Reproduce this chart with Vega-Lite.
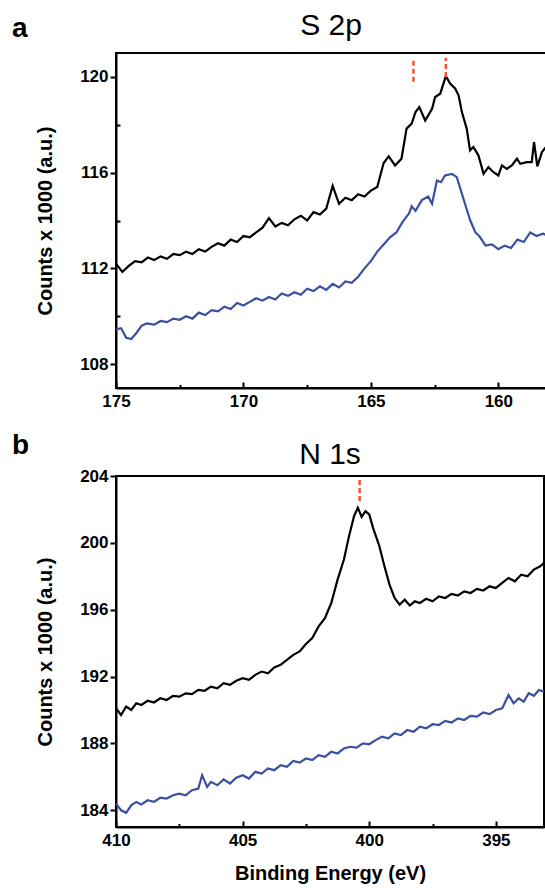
{
  "$schema": "https://vega.github.io/schema/vega-lite/v6.json",
  "padding": {"left": 12, "top": 10, "right": 0, "bottom": 0},
  "config": {
    "font": "Liberation Sans",
    "view": {"stroke": "#000000", "strokeWidth": 2},
    "axis": {"domainColor": "#000000", "domainWidth": 2, "tickColor": "#000000", "tickWidth": 2, "labelFont": "Liberation Sans", "labelFontSize": 17, "labelFontWeight": "bold", "labelColor": "#000000", "titleFont": "Liberation Sans", "titleFontSize": 20, "titleFontWeight": "bold", "titleColor": "#000000", "grid": false, "labelFlush": false, "labelOverlap": false},
    "title": {"color": "#000000", "font": "Liberation Sans"}
  },
  "datasets": {
    "s2p": [
      {"E":175.0,"v":112.2,"s":"k"},{"E":174.75,"v":111.85,"s":"k"},{"E":174.5,"v":112.1,"s":"k"},{"E":174.25,"v":112.3,"s":"k"},{"E":174.0,"v":112.25,"s":"k"},{"E":173.75,"v":112.45,"s":"k"},{"E":173.5,"v":112.35,"s":"k"},{"E":173.25,"v":112.5,"s":"k"},{"E":173.0,"v":112.4,"s":"k"},{"E":172.75,"v":112.6,"s":"k"},{"E":172.5,"v":112.55,"s":"k"},{"E":172.25,"v":112.7,"s":"k"},{"E":172.0,"v":112.6,"s":"k"},{"E":171.75,"v":112.8,"s":"k"},{"E":171.5,"v":112.7,"s":"k"},{"E":171.25,"v":112.9,"s":"k"},{"E":171.0,"v":113.05,"s":"k"},{"E":170.75,"v":112.95,"s":"k"},{"E":170.5,"v":113.2,"s":"k"},{"E":170.25,"v":113.1,"s":"k"},{"E":170.0,"v":113.35,"s":"k"},{"E":169.75,"v":113.3,"s":"k"},{"E":169.5,"v":113.5,"s":"k"},{"E":169.25,"v":113.7,"s":"k"},{"E":169.0,"v":114.1,"s":"k"},{"E":168.75,"v":113.75,"s":"k"},{"E":168.5,"v":113.9,"s":"k"},{"E":168.25,"v":113.8,"s":"k"},{"E":168.0,"v":114.05,"s":"k"},{"E":167.75,"v":114.2,"s":"k"},{"E":167.5,"v":114.0,"s":"k"},{"E":167.25,"v":114.35,"s":"k"},{"E":167.0,"v":114.25,"s":"k"},{"E":166.75,"v":114.5,"s":"k"},{"E":166.5,"v":115.45,"s":"k"},{"E":166.25,"v":114.7,"s":"k"},{"E":166.0,"v":114.95,"s":"k"},{"E":165.75,"v":114.85,"s":"k"},{"E":165.5,"v":115.1,"s":"k"},{"E":165.25,"v":115.0,"s":"k"},{"E":165.0,"v":115.25,"s":"k"},{"E":164.75,"v":115.4,"s":"k"},{"E":164.5,"v":116.4,"s":"k"},{"E":164.3,"v":116.68,"s":"k"},{"E":164.05,"v":116.3,"s":"k"},{"E":163.8,"v":116.58,"s":"k"},{"E":163.6,"v":117.84,"s":"k"},{"E":163.4,"v":118.05,"s":"k"},{"E":163.25,"v":118.53,"s":"k"},{"E":163.1,"v":118.74,"s":"k"},{"E":162.87,"v":118.18,"s":"k"},{"E":162.6,"v":118.67,"s":"k"},{"E":162.48,"v":119.16,"s":"k"},{"E":162.28,"v":119.3,"s":"k"},{"E":162.06,"v":120.03,"s":"k"},{"E":161.89,"v":119.72,"s":"k"},{"E":161.69,"v":119.51,"s":"k"},{"E":161.56,"v":119.23,"s":"k"},{"E":161.43,"v":118.53,"s":"k"},{"E":161.24,"v":117.84,"s":"k"},{"E":161.11,"v":116.93,"s":"k"},{"E":160.98,"v":117.07,"s":"k"},{"E":160.78,"v":116.72,"s":"k"},{"E":160.58,"v":115.95,"s":"k"},{"E":160.39,"v":116.23,"s":"k"},{"E":160.19,"v":116.02,"s":"k"},{"E":160.0,"v":115.88,"s":"k"},{"E":159.86,"v":116.3,"s":"k"},{"E":159.67,"v":116.16,"s":"k"},{"E":159.47,"v":116.3,"s":"k"},{"E":159.27,"v":116.58,"s":"k"},{"E":159.14,"v":116.37,"s":"k"},{"E":158.88,"v":116.44,"s":"k"},{"E":158.69,"v":116.44,"s":"k"},{"E":158.6,"v":117.28,"s":"k"},{"E":158.47,"v":116.26,"s":"k"},{"E":158.29,"v":116.86,"s":"k"},{"E":158.13,"v":117.07,"s":"k"},
      {"E":175.0,"v":109.45,"s":"b"},{"E":174.8,"v":109.5,"s":"b"},{"E":174.6,"v":109.1,"s":"b"},{"E":174.4,"v":109.05,"s":"b"},{"E":174.2,"v":109.3,"s":"b"},{"E":174.0,"v":109.6,"s":"b"},{"E":173.8,"v":109.7,"s":"b"},{"E":173.5,"v":109.65,"s":"b"},{"E":173.25,"v":109.8,"s":"b"},{"E":173.0,"v":109.75,"s":"b"},{"E":172.75,"v":109.9,"s":"b"},{"E":172.5,"v":109.85,"s":"b"},{"E":172.25,"v":110.0,"s":"b"},{"E":172.0,"v":109.9,"s":"b"},{"E":171.75,"v":110.15,"s":"b"},{"E":171.5,"v":110.05,"s":"b"},{"E":171.25,"v":110.25,"s":"b"},{"E":171.0,"v":110.2,"s":"b"},{"E":170.75,"v":110.4,"s":"b"},{"E":170.5,"v":110.3,"s":"b"},{"E":170.25,"v":110.55,"s":"b"},{"E":170.0,"v":110.45,"s":"b"},{"E":169.75,"v":110.6,"s":"b"},{"E":169.5,"v":110.75,"s":"b"},{"E":169.25,"v":110.65,"s":"b"},{"E":169.0,"v":110.8,"s":"b"},{"E":168.75,"v":110.7,"s":"b"},{"E":168.5,"v":110.95,"s":"b"},{"E":168.25,"v":110.85,"s":"b"},{"E":168.0,"v":111.0,"s":"b"},{"E":167.75,"v":110.9,"s":"b"},{"E":167.5,"v":111.15,"s":"b"},{"E":167.25,"v":111.05,"s":"b"},{"E":167.0,"v":111.25,"s":"b"},{"E":166.75,"v":111.1,"s":"b"},{"E":166.5,"v":111.35,"s":"b"},{"E":166.25,"v":111.2,"s":"b"},{"E":166.0,"v":111.45,"s":"b"},{"E":165.75,"v":111.4,"s":"b"},{"E":165.5,"v":111.65,"s":"b"},{"E":165.25,"v":112.0,"s":"b"},{"E":165.0,"v":112.3,"s":"b"},{"E":164.75,"v":112.7,"s":"b"},{"E":164.5,"v":113.0,"s":"b"},{"E":164.25,"v":113.3,"s":"b"},{"E":164.0,"v":113.5,"s":"b"},{"E":163.75,"v":113.95,"s":"b"},{"E":163.5,"v":114.3,"s":"b"},{"E":163.4,"v":114.6,"s":"b"},{"E":163.25,"v":114.4,"s":"b"},{"E":163.0,"v":114.85,"s":"b"},{"E":162.75,"v":115.0,"s":"b"},{"E":162.6,"v":114.7,"s":"b"},{"E":162.41,"v":115.67,"s":"b"},{"E":162.25,"v":115.6,"s":"b"},{"E":162.09,"v":115.88,"s":"b"},{"E":161.82,"v":115.95,"s":"b"},{"E":161.63,"v":115.81,"s":"b"},{"E":161.43,"v":115.12,"s":"b"},{"E":161.25,"v":114.5,"s":"b"},{"E":161.1,"v":114.0,"s":"b"},{"E":160.9,"v":113.5,"s":"b"},{"E":160.75,"v":113.35,"s":"b"},{"E":160.5,"v":112.95,"s":"b"},{"E":160.25,"v":113.0,"s":"b"},{"E":160.0,"v":112.8,"s":"b"},{"E":159.75,"v":112.95,"s":"b"},{"E":159.5,"v":112.85,"s":"b"},{"E":159.25,"v":113.2,"s":"b"},{"E":159.0,"v":113.1,"s":"b"},{"E":158.75,"v":113.5,"s":"b"},{"E":158.5,"v":113.35,"s":"b"},{"E":158.25,"v":113.45,"s":"b"},{"E":158.13,"v":113.4,"s":"b"}
    ],
    "n1s": [
      {"E":410.0,"v":190.1,"s":"k"},{"E":409.8,"v":189.7,"s":"k"},{"E":409.6,"v":190.2,"s":"k"},{"E":409.4,"v":190.0,"s":"k"},{"E":409.2,"v":190.4,"s":"k"},{"E":409.0,"v":190.3,"s":"k"},{"E":408.75,"v":190.55,"s":"k"},{"E":408.5,"v":190.45,"s":"k"},{"E":408.25,"v":190.7,"s":"k"},{"E":408.0,"v":190.6,"s":"k"},{"E":407.75,"v":190.85,"s":"k"},{"E":407.5,"v":190.8,"s":"k"},{"E":407.25,"v":191.0,"s":"k"},{"E":407.0,"v":190.95,"s":"k"},{"E":406.75,"v":191.2,"s":"k"},{"E":406.5,"v":191.15,"s":"k"},{"E":406.25,"v":191.4,"s":"k"},{"E":406.0,"v":191.3,"s":"k"},{"E":405.75,"v":191.6,"s":"k"},{"E":405.5,"v":191.5,"s":"k"},{"E":405.25,"v":191.75,"s":"k"},{"E":405.0,"v":191.9,"s":"k"},{"E":404.75,"v":191.8,"s":"k"},{"E":404.5,"v":192.1,"s":"k"},{"E":404.25,"v":192.3,"s":"k"},{"E":404.0,"v":192.2,"s":"k"},{"E":403.75,"v":192.55,"s":"k"},{"E":403.5,"v":192.7,"s":"k"},{"E":403.25,"v":193.0,"s":"k"},{"E":403.0,"v":193.3,"s":"k"},{"E":402.75,"v":193.5,"s":"k"},{"E":402.5,"v":193.95,"s":"k"},{"E":402.25,"v":194.3,"s":"k"},{"E":402.0,"v":195.0,"s":"k"},{"E":401.75,"v":195.5,"s":"k"},{"E":401.5,"v":196.4,"s":"k"},{"E":401.25,"v":197.8,"s":"k"},{"E":401.0,"v":199.0,"s":"k"},{"E":400.8,"v":200.4,"s":"k"},{"E":400.6,"v":201.6,"s":"k"},{"E":400.45,"v":202.1,"s":"k"},{"E":400.3,"v":201.55,"s":"k"},{"E":400.15,"v":201.9,"s":"k"},{"E":400.0,"v":201.7,"s":"k"},{"E":399.85,"v":200.9,"s":"k"},{"E":399.6,"v":199.8,"s":"k"},{"E":399.4,"v":198.6,"s":"k"},{"E":399.2,"v":197.5,"s":"k"},{"E":399.0,"v":196.7,"s":"k"},{"E":398.8,"v":196.3,"s":"k"},{"E":398.6,"v":196.6,"s":"k"},{"E":398.4,"v":196.25,"s":"k"},{"E":398.2,"v":196.5,"s":"k"},{"E":398.0,"v":196.4,"s":"k"},{"E":397.75,"v":196.65,"s":"k"},{"E":397.5,"v":196.5,"s":"k"},{"E":397.25,"v":196.8,"s":"k"},{"E":397.0,"v":196.7,"s":"k"},{"E":396.75,"v":196.95,"s":"k"},{"E":396.5,"v":196.85,"s":"k"},{"E":396.25,"v":197.1,"s":"k"},{"E":396.0,"v":197.0,"s":"k"},{"E":395.75,"v":197.25,"s":"k"},{"E":395.5,"v":197.15,"s":"k"},{"E":395.25,"v":197.4,"s":"k"},{"E":395.0,"v":197.3,"s":"k"},{"E":394.75,"v":197.6,"s":"k"},{"E":394.5,"v":197.9,"s":"k"},{"E":394.25,"v":197.7,"s":"k"},{"E":394.0,"v":198.1,"s":"k"},{"E":393.75,"v":198.0,"s":"k"},{"E":393.5,"v":198.4,"s":"k"},{"E":393.25,"v":198.6,"s":"k"},{"E":393.1,"v":198.8,"s":"k"},
      {"E":410.0,"v":184.4,"s":"b"},{"E":409.8,"v":184.0,"s":"b"},{"E":409.6,"v":183.85,"s":"b"},{"E":409.4,"v":184.3,"s":"b"},{"E":409.2,"v":184.5,"s":"b"},{"E":409.0,"v":184.35,"s":"b"},{"E":408.75,"v":184.6,"s":"b"},{"E":408.5,"v":184.5,"s":"b"},{"E":408.25,"v":184.75,"s":"b"},{"E":408.0,"v":184.7,"s":"b"},{"E":407.75,"v":184.9,"s":"b"},{"E":407.5,"v":185.0,"s":"b"},{"E":407.25,"v":184.9,"s":"b"},{"E":407.0,"v":185.2,"s":"b"},{"E":406.75,"v":185.3,"s":"b"},{"E":406.6,"v":186.1,"s":"b"},{"E":406.4,"v":185.4,"s":"b"},{"E":406.25,"v":185.7,"s":"b"},{"E":406.0,"v":185.5,"s":"b"},{"E":405.75,"v":185.85,"s":"b"},{"E":405.5,"v":185.6,"s":"b"},{"E":405.25,"v":185.95,"s":"b"},{"E":405.0,"v":186.1,"s":"b"},{"E":404.75,"v":185.9,"s":"b"},{"E":404.5,"v":186.3,"s":"b"},{"E":404.25,"v":186.2,"s":"b"},{"E":404.0,"v":186.5,"s":"b"},{"E":403.75,"v":186.4,"s":"b"},{"E":403.5,"v":186.7,"s":"b"},{"E":403.25,"v":186.6,"s":"b"},{"E":403.0,"v":186.95,"s":"b"},{"E":402.75,"v":186.85,"s":"b"},{"E":402.5,"v":187.1,"s":"b"},{"E":402.25,"v":187.0,"s":"b"},{"E":402.0,"v":187.3,"s":"b"},{"E":401.75,"v":187.2,"s":"b"},{"E":401.5,"v":187.5,"s":"b"},{"E":401.25,"v":187.4,"s":"b"},{"E":401.0,"v":187.7,"s":"b"},{"E":400.75,"v":187.8,"s":"b"},{"E":400.5,"v":187.75,"s":"b"},{"E":400.25,"v":188.0,"s":"b"},{"E":400.0,"v":187.95,"s":"b"},{"E":399.75,"v":188.2,"s":"b"},{"E":399.5,"v":188.4,"s":"b"},{"E":399.25,"v":188.3,"s":"b"},{"E":399.0,"v":188.6,"s":"b"},{"E":398.75,"v":188.5,"s":"b"},{"E":398.5,"v":188.8,"s":"b"},{"E":398.25,"v":188.7,"s":"b"},{"E":398.0,"v":189.0,"s":"b"},{"E":397.75,"v":188.9,"s":"b"},{"E":397.5,"v":189.15,"s":"b"},{"E":397.25,"v":189.1,"s":"b"},{"E":397.0,"v":189.35,"s":"b"},{"E":396.75,"v":189.25,"s":"b"},{"E":396.5,"v":189.5,"s":"b"},{"E":396.25,"v":189.4,"s":"b"},{"E":396.0,"v":189.65,"s":"b"},{"E":395.75,"v":189.6,"s":"b"},{"E":395.5,"v":189.85,"s":"b"},{"E":395.25,"v":189.75,"s":"b"},{"E":395.0,"v":190.0,"s":"b"},{"E":394.75,"v":190.1,"s":"b"},{"E":394.5,"v":190.9,"s":"b"},{"E":394.3,"v":190.4,"s":"b"},{"E":394.1,"v":190.7,"s":"b"},{"E":393.9,"v":190.5,"s":"b"},{"E":393.7,"v":191.0,"s":"b"},{"E":393.5,"v":190.85,"s":"b"},{"E":393.3,"v":191.2,"s":"b"},{"E":393.1,"v":191.1,"s":"b"}
    ],
    "dashA": [
      {"E":163.33,"y1":119.8,"y2":120.8},
      {"E":162.06,"y1":120.0,"y2":120.8}
    ],
    "dashB": [
      {"E":400.38,"y1":202.5,"y2":203.9}
    ]
  },
  "spacing": 19,
  "vconcat": [
    {
      "title": {"text": "a", "anchor": "start", "frame": "group", "dx": -104, "dy": 37, "fontSize": 28, "fontWeight": "bold"},
      "vconcat": [
        {
          "title": {"text": "S 2p", "fontSize": 30, "fontWeight": "normal", "offset": 12},
          "width": 430,
          "height": 335,
          "layer": [
            {
              "data": {"name": "s2p"},
              "mark": {"type": "line", "strokeWidth": 2.2, "clip": true},
              "encoding": {
                "x": {"field": "E", "type": "quantitative", "scale": {"domain": [175, 158.13], "nice": false, "zero": false},
                  "axis": {"title": null, "values": [175, 172.5, 170, 167.5, 165, 162.5, 160], "labelExpr": "datum.value % 5 === 0 ? datum.label : ''", "tickSize": {"condition": {"test": "datum.value % 5 === 0", "value": -6}, "value": -3.5}, "labelPadding": 11}},
                "y": {"field": "v", "type": "quantitative", "scale": {"domain": [107, 121], "nice": false, "zero": false},
                  "axis": {"title": "Counts x 1000 (a.u.)", "values": [108, 110, 112, 114, 116, 118, 120], "labelExpr": "datum.value % 4 === 0 ? datum.label : ''", "tickSize": {"condition": {"test": "datum.value % 4 === 0", "value": 6}, "value": -4}, "labelPadding": 2, "titlePadding": 24}},
                "color": {"field": "s", "type": "nominal", "scale": {"domain": ["k", "b"], "range": ["#000000", "#3A4FA2"]}, "legend": null}
              }
            },
            {
              "data": {"name": "dashA"},
              "mark": {"type": "rule", "color": "#EF5533", "strokeWidth": 2.5, "strokeDash": [5, 3]},
              "encoding": {
                "x": {"field": "E", "type": "quantitative"},
                "y": {"field": "y1", "type": "quantitative"},
                "y2": {"field": "y2"}
              }
            }
          ]
        }
      ]
    },
    {
      "title": {"text": "b", "anchor": "start", "frame": "group", "dx": -104, "dy": 25, "fontSize": 28, "fontWeight": "bold"},
      "vconcat": [
        {
          "title": {"text": "N 1s", "fontSize": 30, "fontWeight": "normal", "offset": -3},
          "width": 428,
          "height": 351,
          "layer": [
            {
              "data": {"name": "n1s"},
              "mark": {"type": "line", "strokeWidth": 2.2, "clip": true},
              "encoding": {
                "x": {"field": "E", "type": "quantitative", "scale": {"domain": [410, 393.1], "nice": false, "zero": false},
                  "axis": {"title": "Binding Energy (eV)", "values": [410, 407.5, 405, 402.5, 400, 397.5, 395], "labelExpr": "datum.value % 5 === 0 ? datum.label : ''", "tickSize": {"condition": {"test": "datum.value % 5 === 0", "value": -6}, "value": -3.5}, "labelPadding": 11, "titlePadding": 13}},
                "y": {"field": "v", "type": "quantitative", "scale": {"domain": [183, 204], "nice": false, "zero": false},
                  "axis": {"title": "Counts x 1000 (a.u.)", "values": [184, 186, 188, 190, 192, 194, 196, 198, 200, 202, 204], "labelExpr": "datum.value % 4 === 0 ? datum.label : ''", "tickSize": {"condition": {"test": "datum.value % 4 === 0", "value": 6}, "value": -4}, "labelPadding": 2, "titlePadding": 24}},
                "color": {"field": "s", "type": "nominal", "scale": {"domain": ["k", "b"], "range": ["#000000", "#3A4FA2"]}, "legend": null}
              }
            },
            {
              "data": {"name": "dashB"},
              "mark": {"type": "rule", "color": "#EF5533", "strokeWidth": 2.5, "strokeDash": [5, 3]},
              "encoding": {
                "x": {"field": "E", "type": "quantitative"},
                "y": {"field": "y1", "type": "quantitative"},
                "y2": {"field": "y2"}
              }
            }
          ]
        }
      ]
    }
  ]
}
